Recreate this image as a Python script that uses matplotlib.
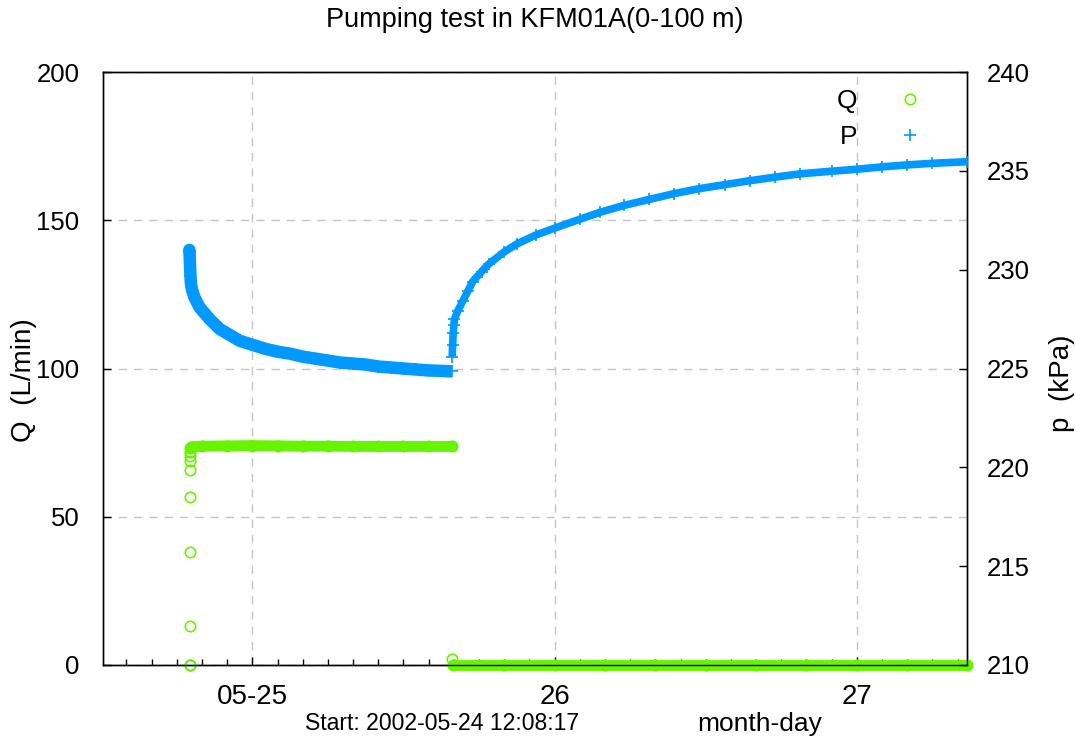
import matplotlib
matplotlib.use("Agg")
import matplotlib.pyplot as plt
from matplotlib.ticker import MultipleLocator, FixedLocator
import numpy as np

plt.rcParams['font.family'] = ['Liberation Sans', 'DejaVu Sans']

# time axis: hours counted from 2002-05-24 00:00
t_start = 12 + 8/60 + 17/3600
t_end = 80.75
day_ticks = [24, 48, 72]
day_labels = ['05-25', '26', '27']

# flow rate Q (L/min)
q_ramp_h = [19.03, 19.05, 19.06, 19.06, 19.07, 19.07, 19.07, 19.08, 19.08, 19.08]
q_ramp = [0.0, 0.0, 0.0, 13.1, 38.2, 56.8, 65.7, 68.7, 70.5, 72.0]
q_pump_h = [19.08, 19.2, 20, 22, 24, 26, 28, 30, 32, 34, 36, 38, 39.85]
q_pump = [73.2, 73.6, 73.8, 73.9, 74.0, 73.9, 73.8, 73.8, 73.7, 73.7, 73.7, 73.7, 73.7]
q_stop_h = [39.86]
q_stop = [2.0]
q_rec_h = [39.9, 44, 48, 52, 56, 60, 64, 68, 72, 76, 80.74]
q_rec = [0, 0, 0, 0, 0, 0, 0, 0, 0, 0, 0]

# pressure p (kPa)
p_pump_h = [18.98, 19.0, 19.02, 19.05, 19.08, 19.12, 19.2, 19.4, 19.8, 20.2, 20.6, 21.4,
            22.2, 23.0, 24.0, 25.0, 26.0, 27.0, 28.0, 29.0, 30.0, 31.0, 32.0, 33.0,
            34.0, 35.0, 36.0, 37.0, 38.0, 39.0, 39.85]
p_pump = [230.9, 231.0, 230.7, 230.2, 229.7, 229.3, 229.0, 228.6, 228.1, 227.8, 227.5, 227.0,
          226.7, 226.4, 226.2, 226.0, 225.85, 225.75, 225.6, 225.5, 225.4, 225.3, 225.25, 225.2,
          225.1, 225.05, 225.0, 224.95, 224.9, 224.88, 224.85]
p_rec_h = [39.87, 39.9, 39.95, 40.0, 40.05, 40.3, 40.7, 41.1, 41.5, 42.2, 42.8, 44.0, 45.0,
           46.5, 48.0, 50.0, 51.6, 53.5, 55.5, 57.5, 59.5, 61.5, 63.5, 65.5, 67.5, 70.0,
           72.0, 74.0, 76.0, 78.0, 80.74]
p_rec = [225.6, 226.2, 226.8, 227.2, 227.5, 227.9, 228.4, 228.9, 229.4, 229.9, 230.3, 230.9, 231.3,
         231.75, 232.1, 232.55, 232.9, 233.25, 233.55, 233.85, 234.1, 234.3, 234.5, 234.68, 234.85, 234.98,
         235.08, 235.2, 235.3, 235.38, 235.46]

green = '#66f400'
blue = '#0099ff'

fig = plt.figure(figsize=(10.76, 7.44), dpi=100)
ax = fig.add_axes([103/1076, 1 - 665/744, 864/1076, 593/744])
ax2 = ax.twinx()

# Q on left axis
ax.plot(q_pump_h, q_pump, color=green, lw=7.8, solid_capstyle='round', clip_on=False, zorder=3)
ax.plot(q_rec_h, q_rec, color=green, lw=7.8, solid_capstyle='round', clip_on=False, zorder=3)
hq, = ax.plot(q_ramp_h + q_pump_h + q_stop_h + q_rec_h, q_ramp + q_pump + q_stop + q_rec,
              linestyle='none', marker='o', ms=7.5, mfc='none', mec=green, mew=1.2,
              clip_on=False, zorder=4, label='Q')

# P on right axis
ax2.plot(p_pump_h, p_pump, color=blue, lw=9, solid_capstyle='butt', zorder=3)
ax2.plot(p_rec_h, p_rec, color=blue, lw=5.5, solid_capstyle='butt', zorder=3)
hp, = ax2.plot(p_pump_h + p_rec_h, p_pump + p_rec, linestyle='none', marker='+', ms=9,
               mew=1.2, color=blue, zorder=4, label='P')

ax.set_xlim(t_start, t_end)
ax.set_ylim(0, 200)
ax2.set_ylim(210, 240)
ax.yaxis.set_major_locator(MultipleLocator(50))
ax2.yaxis.set_major_locator(MultipleLocator(5))
ax.xaxis.set_major_locator(FixedLocator(day_ticks))
ax.set_xticklabels(day_labels)
ax.xaxis.set_minor_locator(MultipleLocator(2))

ax.grid(True, which='major', color='#c4c4c4', linestyle=(0, (6, 5)), linewidth=1)
ax.set_axisbelow(True)

ax.tick_params(axis='y', which='major', direction='in', length=6, width=1,
               labelsize=18.5, pad=17)
ax.tick_params(axis='x', which='minor', direction='in', length=4, width=1, top=False)
ax.tick_params(axis='x', which='major', direction='in', length=6, width=1,
               labelsize=20, pad=14, top=False)
ax2.tick_params(axis='y', which='major', direction='in', length=6, width=1,
                labelsize=18.5, pad=14)
for a in (ax, ax2):
    for s in a.spines.values():
        s.set_linewidth(1)
        s.set_color('black')

fig.text(535/1076, 1 - 20/744, 'Pumping test in KFM01A(0-100 m)', ha='center', va='center', fontsize=19.5)
fig.text(24/1076, 1 - 380/744, 'Q  (L/min)', rotation=90, ha='center', va='center', fontsize=20)
fig.text(1062/1076, 1 - 383/744, 'p  (kPa)', rotation=90, ha='center', va='center', fontsize=20)
fig.text(305/1076, 1 - 724/744, 'Start: 2002-05-24 12:08:17', ha='left', va='center', fontsize=16.6)
fig.text(697/1076, 1 - 724/744, 'month-day', ha='left', va='center', fontsize=19)

fig.legend(handles=[hq, hp], loc='upper right', bbox_to_anchor=(923/1076, 1 - 89/744),
           frameon=False, markerfirst=False, fontsize=19, handlelength=1.0,
           handletextpad=1.5, labelspacing=0.45, borderpad=0, borderaxespad=0)

fig.savefig('out.png', dpi=100)
